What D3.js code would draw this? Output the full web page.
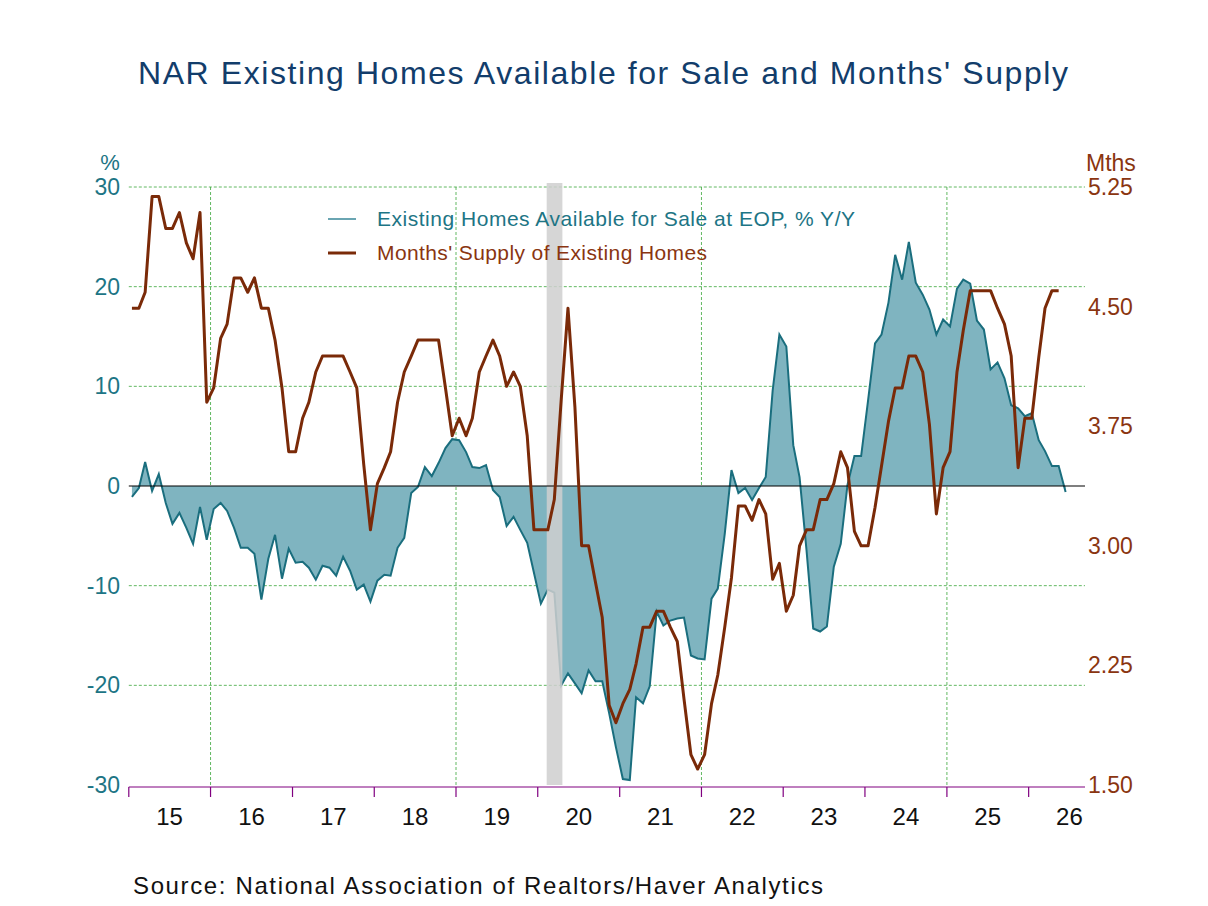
<!DOCTYPE html>
<html><head><meta charset="utf-8">
<script src="https://cdn.jsdelivr.net/npm/d3@7/dist/d3.min.js"></script>
<style>body{margin:0;background:#fff}svg{display:block}text{font-family:"Liberation Sans",Arial,sans-serif}</style>
</head><body>
<svg id="c" width="1208" height="906"></svg>
<script>
const startYear = 2015, startMonth = 0;
const inventoryYoY = [-1.1,-0.2,2.4,-0.5,1.2,-1.7,-3.8,-2.7,-4.2,-5.8,-2.1,-5.4,
-2.3,-1.7,-2.5,-4.2,-6.2,-6.2,-6.8,-11.4,-7.3,-4.9,-9.3,-6.3,
-7.7,-7.6,-8.2,-9.4,-8.0,-8.2,-9.0,-7.1,-8.5,-10.4,-9.9,-11.6,
-9.5,-8.9,-9.0,-6.2,-5.2,-0.7,-0.1,1.9,1.0,2.3,3.8,4.7,
4.6,3.4,1.9,1.8,2.1,-0.4,-1.1,-4.0,-3.1,-4.4,-5.7,-8.7,
-11.8,-10.4,-10.7,-20.0,-18.8,-19.8,-20.8,-18.5,-19.6,-19.6,-22.8,-26.2,
-29.4,-29.5,-21.2,-21.8,-20.1,-12.6,-14.0,-13.5,-13.3,-13.2,-17.0,-17.3,
-17.4,-11.3,-10.3,-4.8,1.6,-0.7,-0.2,-1.4,-0.2,0.9,9.6,15.2,
14.0,4.1,0.9,-6.4,-14.3,-14.6,-14.1,-8.1,-5.8,0.1,3.0,3.0,
8.6,14.3,15.2,18.4,23.2,20.7,24.5,20.4,19.2,17.7,15.2,16.7,
16.0,19.8,20.7,20.3,16.6,15.7,11.7,12.4,10.8,8.1,7.8,7.0,
7.3,4.6,3.5,2.0,2.0,-0.6];
const monthsSupply = [4.49,4.49,4.59,5.19,5.19,4.99,4.99,5.09,4.90,4.80,5.09,3.90,
3.99,4.30,4.39,4.68,4.68,4.59,4.68,4.49,4.49,4.29,3.99,3.59,
3.59,3.80,3.90,4.09,4.19,4.19,4.19,4.19,4.09,3.99,3.51,3.10,
3.39,3.49,3.59,3.90,4.09,4.19,4.29,4.29,4.29,4.29,3.99,3.69,
3.80,3.69,3.80,4.09,4.19,4.29,4.19,4.00,4.09,4.00,3.69,3.10,
3.10,3.10,3.29,3.92,4.49,3.87,3.00,3.00,2.77,2.55,2.00,1.89,
2.01,2.10,2.26,2.49,2.49,2.59,2.59,2.49,2.40,2.04,1.69,1.60,
1.69,2.01,2.19,2.49,2.80,3.25,3.25,3.16,3.29,3.20,2.79,2.89,
2.59,2.69,3.00,3.10,3.10,3.29,3.29,3.39,3.59,3.49,3.09,3.00,
3.00,3.24,3.50,3.78,3.99,3.99,4.19,4.19,4.09,3.76,3.20,3.49,
3.59,4.09,4.35,4.60,4.60,4.60,4.60,4.49,4.39,4.19,3.49,3.80,
3.80,4.18,4.49,4.60,4.60];
const leftTicks = [30,20,10,0,-10,-20,-30];
const rightTicks = [5.25,4.50,3.75,3.00,2.25,1.50];
const yearLabels = ["15","16","17","18","19","20","21","22","23","24","25","26"];
const gridYears = [2016,2019,2022,2025];
const recession = [[new Date(2020,1,10), new Date(2020,3,20)]];

const L=128.8, R=1085, T=187, B=785;
const svg = d3.select("#c");
const x = d3.scaleTime().domain([new Date(2015,0,1), new Date(2015,0,1).getTime() + (R-L)/81.8*365.25*864e5]).range([L,R]);
const yL = d3.scaleLinear().domain([-30,30]).range([B,T]);
const yR = d3.scaleLinear().domain([1.5,5.25]).range([B,T]);
const date = i => new Date(startYear, startMonth+i, 15);
const teal="#1a6e7e", brown="#7a2a08";

svg.append("g").selectAll("line").data(leftTicks.filter(d=>d!==0 && d!==-30)).join("line")
 .attr("x1",L).attr("x2",R).attr("y1",d=>yL(d)).attr("y2",d=>yL(d))
 .attr("stroke","#3aa63a").attr("stroke-width",0.8).attr("stroke-dasharray","3,2");
svg.append("g").selectAll("line").data(gridYears).join("line")
 .attr("x1",d=>x(new Date(d,0,1))).attr("x2",d=>x(new Date(d,0,1))).attr("y1",T).attr("y2",B)
 .attr("stroke","#3aa63a").attr("stroke-width",0.8).attr("stroke-dasharray","3,2");

svg.append("path").datum(inventoryYoY)
 .attr("d", d3.area().x((d,i)=>x(date(i))).y0(yL(0)).y1(d=>yL(d)))
 .attr("fill","#7fb4c0");
svg.append("path").datum(inventoryYoY)
 .attr("d", d3.line().x((d,i)=>x(date(i))).y(d=>yL(d)))
 .attr("fill","none").attr("stroke",teal).attr("stroke-width",2);

svg.append("g").selectAll("rect").data(recession).join("rect")
 .attr("x",d=>x(d[0])).attr("width",d=>x(d[1])-x(d[0])).attr("y",T-4).attr("height",B-T+4)
 .attr("fill","#cfcfcf").attr("opacity",0.85);

svg.append("line").attr("x1",L).attr("x2",R).attr("y1",yL(0)).attr("y2",yL(0)).attr("stroke","#000").attr("stroke-width",1.2);

svg.append("path").datum(monthsSupply)
 .attr("d", d3.line().x((d,i)=>x(date(i))).y(d=>yR(d)))
 .attr("fill","none").attr("stroke",brown).attr("stroke-width",3).attr("stroke-linejoin","round");

const xa = svg.append("g").attr("transform",`translate(0,${B+2})`);
xa.append("line").attr("x1",L).attr("x2",R).attr("stroke","#800080").attr("stroke-width",1.2);
const yrs = d3.range(2015,2027);
xa.selectAll(".t").data(yrs).join("line").attr("x1",d=>x(new Date(d,0,1))).attr("x2",d=>x(new Date(d,0,1)))
 .attr("y1",0).attr("y2",10).attr("stroke","#800080").attr("stroke-width",1.2);
xa.selectAll("text").data(yearLabels).join("text")
 .attr("x",(d,i)=>x(new Date(2015+i,6,2))).attr("y",38).attr("text-anchor","middle")
 .attr("font-size",24).attr("fill","#111").text(d=>d);

svg.append("g").selectAll("text").data(leftTicks).join("text")
 .attr("x",120).attr("y",d=>yL(d)+8).attr("text-anchor","end").attr("font-size",23).attr("fill","#1d7585")
 .text(d=>d);
svg.append("g").selectAll("text").data(rightTicks).join("text")
 .attr("x",1088).attr("y",d=>yR(d)+8).attr("text-anchor","start").attr("font-size",23).attr("fill","#8a3510")
 .text(d=>d.toFixed(2));
svg.append("text").attr("x",110).attr("y",170).attr("text-anchor","middle").attr("font-size",22).attr("fill","#1d7585").text("%");
svg.append("text").attr("x",1086).attr("y",171).attr("font-size",23).attr("fill","#8a3510").text("Mths");

svg.append("text").attr("x",138).attr("y",84).attr("font-size",32).attr("fill","#123d6b").attr("textLength",930)
 .text("NAR Existing Homes Available for Sale and Months' Supply");

svg.append("line").attr("x1",328).attr("x2",356).attr("y1",219).attr("y2",219).attr("stroke","#6aa5b2").attr("stroke-width",2);
svg.append("text").attr("x",377).attr("y",226).attr("font-size",21).attr("fill","#1d7585").attr("textLength",478)
 .text("Existing Homes Available for Sale at EOP, % Y/Y");
svg.append("line").attr("x1",328).attr("x2",356).attr("y1",253).attr("y2",253).attr("stroke",brown).attr("stroke-width",3);
svg.append("text").attr("x",377).attr("y",260).attr("font-size",21).attr("fill","#8a3510").attr("textLength",330)
 .text("Months' Supply of Existing Homes");

svg.append("text").attr("x",133).attr("y",894).attr("font-size",24).attr("fill","#111").attr("textLength",690)
 .text("Source:  National Association of Realtors/Haver Analytics");
</script>
</body></html>
